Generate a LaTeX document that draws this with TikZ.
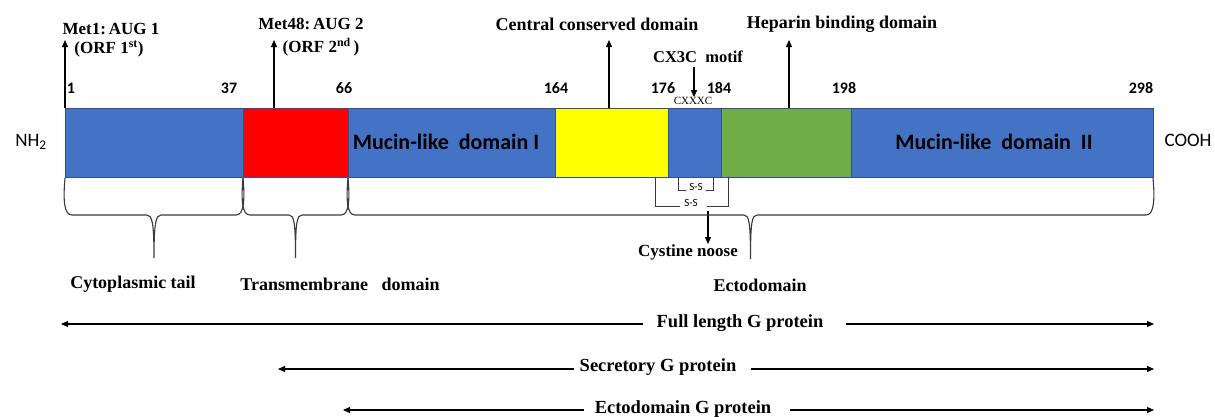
\documentclass[tikz,border=0pt]{standalone}
\usepackage{fontspec}
\setmainfont{Liberation Serif}
\newfontfamily\calfont{Carlito}
\usetikzlibrary{arrows.meta}
\definecolor{segblue}{HTML}{4472C4}
\definecolor{segred}{HTML}{FF0000}
\definecolor{segyellow}{HTML}{FFFF00}
\definecolor{seggreen}{HTML}{70AD47}
\definecolor{segedge}{HTML}{2F528F}
\definecolor{bracegray}{HTML}{3A3A3A}
\begin{document}
\begin{tikzpicture}[x=1pt,y=-1pt,
  seg/.style={draw=segedge, line width=0.8pt, minimum height=69pt, inner sep=0pt, anchor=north west},
  num/.style={font=\calfont\bfseries\fontsize{16}{18}\selectfont, inner sep=0pt},
  sans/.style={font=\calfont\fontsize{19}{21}\selectfont, inner sep=0pt},
  domlabel/.style={font=\calfont\bfseries\fontsize{22}{24}\selectfont, inner sep=0pt},
  serif/.style={font=\bfseries\fontsize{18}{20}\selectfont, inner sep=0pt},
  metlabel/.style={font=\bfseries\fontsize{17}{19}\selectfont, inner sep=0pt},
  small/.style={font=\fontsize{11}{12}\selectfont, inner sep=0pt},
  ss/.style={font=\calfont\fontsize{11}{12}\selectfont, inner sep=0pt},
  arr/.style={line width=1.1pt, -{Triangle[length=7pt,width=6pt]}},
  brace/.style={draw=bracegray, line width=1.1pt},
  bracket/.style={draw=bracegray, line width=1pt}
]
\useasboundingbox (0,0) rectangle (1215,416);

% bar segments
\node[seg, fill=segblue,   minimum width=178pt] (s1) at (65,108) {};
\node[seg, fill=segred,    minimum width=105pt] (s2) at (243,108) {};
\node[seg, fill=segblue,   minimum width=207pt] (s3) at (348,108) {};
\node[seg, fill=segyellow, minimum width=113pt] (s4) at (555,108) {};
\node[seg, fill=segblue,   minimum width=53pt]  (s5) at (668,108) {};
\node[seg, fill=seggreen,  minimum width=130pt] (s6) at (721,108) {};
\node[seg, fill=segblue,   minimum width=302pt] (s7) at (851,108) {};

\node[domlabel] (mu1) at (446,142) {Mucin-like\ \ domain I};
\node[domlabel] (mu2) at (994,142) {Mucin-like\ \ domain\ \ II};

\node[sans] (nh) at (31,142) {NH\textsubscript{2}};
\node[sans] (cooh) at (1188,140) {COOH};

% numbers
\node[num] (n1) at (71,88) {1};
\node[num] (n37) at (229,88) {37};
\node[num] (n66) at (344,88) {66};
\node[num] (n164) at (556,88) {164};
\node[num] (n176) at (663,88) {176};
\node[num] (n184) at (719,88) {184};
\node[num] (n198) at (844,88) {198};
\node[num] (n298) at (1141,88) {298};

% top labels and arrows
\node[metlabel] (met1) at (111,29) {Met1:\,AUG 1};
\node[metlabel] (orf1) at (109,49) {(ORF 1\textsuperscript{st})};
\node[metlabel] (met48) at (311,24) {Met48:\,AUG 2};
\node[metlabel] (orf2) at (321,47) {(ORF 2\textsuperscript{nd}\,)};
\node[serif] (ccd) at (597,24) {Central conserved domain};
\node[serif] (hbd) at (842,24) {Heparin binding domain};
\node[serif, font=\bfseries\fontsize{16.5}{18}\selectfont] (cx) at (698,57) {CX3C\ \ motif};
\node[small] (cxx) at (693,101) {CXXXC};

\coordinate (a1) at (65,40);
\coordinate (a2) at (274,40);
\coordinate (a3) at (609,40);
\coordinate (a4) at (789,40);
\draw[arr] (s1.north west) -- (a1);
\draw[arr] (a2 |- s2.north) -- (a2);
\draw[arr] (a3 |- s4.north) -- (a3);
\draw[arr] (a4 |- s6.north) -- (a4);
\coordinate (cxtop) at (694,67);
\draw[arr] (cxtop) -- (cxtop |- cxx.north);

% disulfide brackets
\draw[bracket] (678,177) -- (678,190) -- (686,190);
\draw[bracket] (706,190) -- (713,190) -- (713,177);
\node[ss] (ss1) at (696,187) {S-S};
\draw[bracket] (655,177) -- (655,206) -- (680,206);
\draw[bracket] (707,206) -- (728,206) -- (728,177);
\node[ss] (ss2) at (691,203) {S-S};

\node[serif, font=\bfseries\fontsize{17}{19}\selectfont] (cn) at (688,252) {Cystine noose};
\coordinate (cntop) at (708,211);
\draw[arr] (cntop) -- (cntop |- cn.north);

% braces
\draw[brace] (65,178) .. controls (63,200) and (64,215) .. (72,215) -- (147,215)
  .. controls (152,215) and (154,222) .. (154,258)
  .. controls (154,222) and (156,215) .. (161,215) -- (236,215)
  .. controls (244,215) and (245,200) .. (243,178);
\draw[brace] (243,178) .. controls (241,200) and (242,215) .. (250,215) -- (289,215)
  .. controls (294,215) and (295.5,222) .. (295.5,258)
  .. controls (295.5,222) and (297,215) .. (302,215) -- (341,215)
  .. controls (349,215) and (350,200) .. (348,178);
\draw[brace] (348,178) .. controls (346,200) and (347,215) .. (355,215) -- (744,215)
  .. controls (749,215) and (750.5,222) .. (750.5,259)
  .. controls (750.5,222) and (752,215) .. (757,215) -- (1146,215)
  .. controls (1154,215) and (1155,200) .. (1153,178);

\node[serif] (cyt) at (133,284) {Cytoplasmic tail};
\node[serif] (tm) at (340,284) {Transmembrane\ \ \ domain};
\node[serif] (ecto) at (760,285) {Ectodomain};

% bottom arrows
\node[serif, font=\bfseries\fontsize{18.5}{20}\selectfont] (fl) at (740,323) {Full length G protein};
\node[serif, font=\bfseries\fontsize{18.5}{20}\selectfont] (sec) at (658,367) {Secretory G protein};
\node[serif, font=\bfseries\fontsize{18.5}{20}\selectfont] (eg) at (683,409) {Ectodomain G protein};
\coordinate (flL) at (61,324);
\coordinate (flR) at (1154,324);
\coordinate (secL) at (278,369);
\coordinate (secR) at (1154,369);
\coordinate (egL) at (343,410);
\coordinate (egR) at (1154,410);
\draw[arr, shorten <=13pt] (fl.west |- flL) -- (flL);
\draw[arr, shorten <=22pt] (fl.east |- flR) -- (flR);
\draw[arr, shorten <=6pt] (sec.west |- secL) -- (secL);
\draw[arr, shorten <=15pt] (sec.east |- secR) -- (secR);
\draw[arr, shorten <=11pt] (eg.west |- egL) -- (egL);
\draw[arr, shorten <=19pt] (eg.east |- egR) -- (egR);
\end{tikzpicture}
\end{document}
